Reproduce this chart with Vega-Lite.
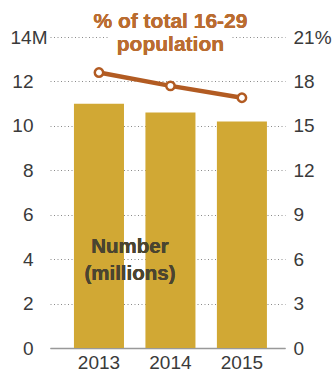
{
  "$schema": "https://vega.github.io/schema/vega-lite/v6.json",
  "autosize": {"type": "none"},
  "width": 235,
  "height": 311,
  "padding": {"left": 50, "top": 37, "right": 49, "bottom": 25},
  "background": "white",
  "config": {
    "view": {"stroke": null},
    "font": "Liberation Sans",
    "axis": {"labelFont": "Liberation Sans", "labelFontSize": 19, "labelColor": "#3a3a3a"}
  },
  "data": {"values": [
    {"year": "2013", "number": 11.0, "pct": 18.6},
    {"year": "2014", "number": 10.6, "pct": 17.7},
    {"year": "2015", "number": 10.2, "pct": 16.9}
  ]},
  "encoding": {
    "x": {"field": "year", "type": "nominal",
      "scale": {"type": "band", "paddingInner": 0.3, "paddingOuter": 0.294, "align": 0.57},
      "axis": {"title": null, "labelAngle": 0, "ticks": false, "domain": true, "domainColor": "#999999", "domainWidth": 1.5, "labelPadding": 5}}
  },
  "layer": [
    {
      "encoding": {
        "y": {"field": "number", "type": "quantitative",
          "scale": {"domain": [0, 14], "nice": false},
          "axis": {"title": null, "values": [0, 2, 4, 6, 8, 10, 12, 14], "domain": false, "ticks": false,
            "grid": true, "gridColor": "#8a8a8a", "gridDash": [1, 2.5], "gridWidth": 1,
            "labelExpr": "datum.value == 14 ? '14M' : datum.label",
            "labelAlign": {"condition": {"test": "datum.value == 14", "value": "left"}, "value": "right"},
            "labelPadding": {"condition": {"test": "datum.value == 14", "value": 40}, "value": 17}}}
      },
      "layer": [
        {"mark": {"type": "bar", "color": "#D1A834"}},
        {
          "mark": {"type": "text", "text": "Number\n(millions)", "lineBreak": "\n", "fontSize": 20.5, "fontWeight": "bold", "color": "#4a4430", "baseline": "alphabetic", "lineHeight": 27, "dx": 31},
          "encoding": {"x": {"datum": "2013"}, "y": {"datum": 4.28, "type": "quantitative"}}
        }
      ]
    },
    {
      "encoding": {
        "y": {"field": "pct", "type": "quantitative",
          "scale": {"domain": [0, 21], "nice": false},
          "axis": {"orient": "right", "title": null, "values": [0, 3, 6, 9, 12, 15, 18, 21], "domain": false, "ticks": false, "grid": false,
            "labelExpr": "datum.value == 21 ? '21%' : datum.label", "labelAlign": "left", "labelPadding": 8}}
      },
      "layer": [
        {
          "mark": {"type": "text", "text": "% of total 16-29\npopulation", "lineBreak": "\n", "fontSize": 21, "fontWeight": "bold", "fill": "white", "stroke": "white", "strokeWidth": 18, "baseline": "alphabetic", "lineHeight": 23},
          "encoding": {"x": {"datum": "2014"}, "y": {"datum": 21.6, "type": "quantitative"}}
        },
        {
          "mark": {"type": "text", "text": "% of total 16-29\npopulation", "lineBreak": "\n", "fontSize": 21, "fontWeight": "bold", "color": "#BA6C30", "baseline": "alphabetic", "lineHeight": 23},
          "encoding": {"x": {"datum": "2014"}, "y": {"datum": 21.6, "type": "quantitative"}}
        },
        {"mark": {"type": "line", "color": "#B25B22", "strokeWidth": 4.5}},
        {"mark": {"type": "point", "filled": true, "fill": "white", "stroke": "#B25B22", "strokeWidth": 2.5, "size": 70, "opacity": 1}}
      ]
    }
  ],
  "resolve": {"scale": {"y": "independent"}}
}
